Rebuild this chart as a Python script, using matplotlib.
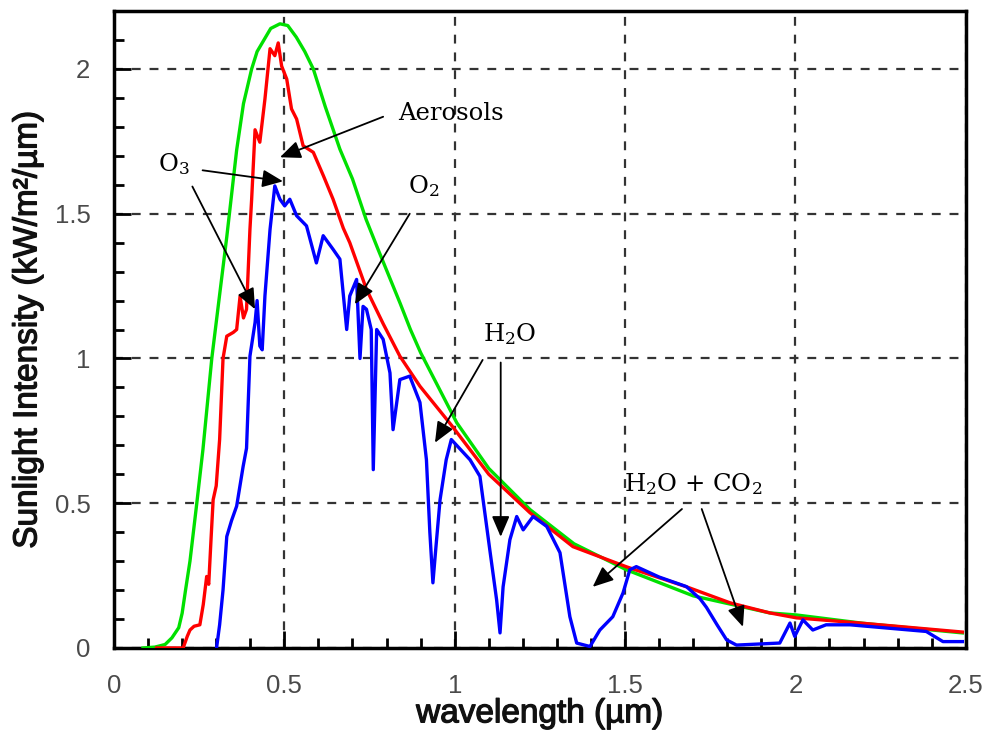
import matplotlib
matplotlib.use('Agg')
import matplotlib.pyplot as plt
import matplotlib.patheffects as pe
from matplotlib.ticker import MultipleLocator, FormatStrFormatter

plt.rcParams['mathtext.fontset'] = 'dejavuserif'

# values (wavelength in um, intensity in kW/m2/um)
green_wl = [0.085, 0.12, 0.15, 0.17, 0.19, 0.20, 0.21, 0.223, 0.243, 0.261, 0.287, 0.31,
            0.331, 0.36, 0.38, 0.404, 0.42, 0.44, 0.46, 0.487, 0.51, 0.535, 0.56, 0.585,
            0.62, 0.663, 0.70, 0.74, 0.775, 0.84, 0.87, 0.90, 1.006, 1.1, 1.221, 1.35,
            1.504, 1.7, 1.925, 2.003, 2.2, 2.49]
green_val = [0.0, 0.003, 0.012, 0.035, 0.07, 0.12, 0.2, 0.3, 0.5, 0.685, 1.0, 1.22,
             1.42, 1.72, 1.88, 2.0, 2.06, 2.1, 2.14, 2.156, 2.15, 2.11, 2.06, 2.0,
             1.87, 1.723, 1.62, 1.48, 1.377, 1.19, 1.10, 1.02, 0.778, 0.62, 0.478, 0.36,
             0.27, 0.18, 0.121, 0.114, 0.085, 0.052]

red_wl = [0.125, 0.203, 0.215, 0.223, 0.235, 0.252, 0.262, 0.272, 0.278, 0.285, 0.291,
          0.30, 0.31, 0.32, 0.331, 0.35, 0.36, 0.37, 0.38, 0.389, 0.399, 0.404, 0.414,
          0.428, 0.443, 0.458, 0.472, 0.482, 0.492, 0.507, 0.521, 0.536, 0.555, 0.585,
          0.615, 0.643, 0.673, 0.692, 0.741, 0.79, 0.839, 0.898, 0.99, 1.1, 1.221,
          1.347, 1.505, 1.681, 1.808, 1.925, 2.003, 2.2, 2.49]
red_val = [0.0, 0.0, 0.04, 0.062, 0.075, 0.08, 0.15, 0.247, 0.22, 0.38, 0.512,
           0.56, 0.72, 1.0, 1.077, 1.09, 1.10, 1.215, 1.14, 1.17, 1.446, 1.55, 1.79,
           1.747, 1.896, 2.07, 2.046, 2.09, 2.01, 1.965, 1.862, 1.827, 1.735, 1.712,
           1.63, 1.55, 1.45, 1.40, 1.239, 1.12, 1.008, 0.904, 0.77, 0.60, 0.467,
           0.35, 0.28, 0.211, 0.156, 0.121, 0.104, 0.085, 0.055]

blue_wl = [0.301, 0.31, 0.32, 0.331, 0.345, 0.36, 0.379, 0.389, 0.399, 0.414, 0.42, 0.428,
           0.435, 0.443, 0.458, 0.472, 0.487, 0.501, 0.516, 0.536, 0.565, 0.594, 0.614,
           0.643, 0.663, 0.683, 0.692, 0.712, 0.722, 0.731, 0.741, 0.755, 0.761, 0.771,
           0.79, 0.81, 0.819, 0.839, 0.868, 0.898, 0.917, 0.927, 0.936, 0.945, 0.957,
           0.975, 0.99, 1.045, 1.074, 1.103, 1.123, 1.133, 1.142, 1.162, 1.182, 1.201,
           1.23, 1.27, 1.309, 1.338, 1.358, 1.397, 1.426, 1.464, 1.494, 1.514, 1.533,
           1.6, 1.68, 1.72, 1.739, 1.77, 1.798, 1.827, 1.954, 1.984, 1.998, 2.022,
           2.051, 2.09, 2.16, 2.267, 2.384, 2.433, 2.49]
blue_val = [0.0, 0.08, 0.2, 0.385, 0.44, 0.49, 0.627, 0.69, 1.008, 1.124, 1.2, 1.043,
            1.03, 1.216, 1.446, 1.596, 1.55, 1.527, 1.55, 1.493, 1.458, 1.33, 1.424,
            1.377, 1.343, 1.10, 1.216, 1.273, 1.0, 1.18, 1.17, 1.1, 0.616, 1.10,
            1.066, 0.95, 0.754, 0.927, 0.939, 0.848, 0.65, 0.4, 0.225, 0.35, 0.512,
            0.65, 0.72, 0.65, 0.593, 0.339, 0.166, 0.052, 0.211, 0.374, 0.454, 0.408,
            0.454, 0.42, 0.329, 0.108, 0.017, 0.005, 0.062, 0.108, 0.19, 0.27, 0.281,
            0.245, 0.212, 0.17, 0.14, 0.08, 0.028, 0.01, 0.017, 0.086, 0.04, 0.097,
            0.062, 0.08, 0.08, 0.069, 0.057, 0.022, 0.022]

# labels: (text, text position, [arrow tips], [arrow starts])
notes = [
    ('Aerosols', (0.99, 1.845), [(0.487, 1.695)], [(0.79, 1.835)]),
    ('O$_3$', (0.175, 1.67), [(0.496, 1.612), (0.414, 1.17)], [(0.26, 1.65), (0.23, 1.594)]),
    ('O$_2$', (0.91, 1.595), [(0.707, 1.187)], [(0.868, 1.5)]),
    ('H$_2$O', (1.16, 1.085), [(0.942, 0.709), (1.135, 0.384)], [(1.082, 0.995), (1.135, 0.986)]),
    ('H$_2$O + CO$_2$', (1.70, 0.566), [(1.405, 0.211), (1.846, 0.073)], [(1.667, 0.48), (1.725, 0.48)]),
]

fig = plt.figure(figsize=(9.87, 7.38), dpi=100)
ax = fig.add_axes([0.1155, 0.122, 0.863, 0.863])

ax.plot(green_wl, green_val, color='#00e000', lw=2.4, zorder=3)
ax.plot(red_wl, red_val, color='#ff0000', lw=2.4, zorder=4)
ax.plot(blue_wl, blue_val, color='#0000ff', lw=2.4, zorder=5)

ax.set_xlim(0, 2.5)
ax.set_ylim(0, 2.2)
ax.xaxis.set_major_locator(MultipleLocator(0.5))
ax.xaxis.set_minor_locator(MultipleLocator(0.1))
ax.yaxis.set_major_locator(MultipleLocator(0.5))
ax.yaxis.set_minor_locator(MultipleLocator(0.1))
ax.xaxis.set_major_formatter(FormatStrFormatter('%g'))
ax.yaxis.set_major_formatter(FormatStrFormatter('%g'))
ax.tick_params(which='both', direction='in', width=2, colors='black',
               labelcolor='#4a4a4a', labelsize=18.5, top=False, right=False)
ax.tick_params(which='major', length=12)
ax.tick_params(which='minor', length=7)
ax.tick_params(axis='x', which='major', pad=19)
ax.tick_params(axis='y', which='major', pad=17)
ax.grid(True, which='major', ls=(0, (4, 4)), color='#333333', lw=1.6)
for s in ax.spines.values():
    s.set_linewidth(2.5)

for lab in ax.get_xticklabels() + ax.get_yticklabels():
    lab.set_family('Liberation Sans')

thick = [pe.withStroke(linewidth=0.9, foreground='#111111')]
ax.set_xlabel('wavelength (µm)', fontsize=24, family='Liberation Sans',
              color='#111111', labelpad=0, path_effects=thick)
ax.set_ylabel('Sunlight Intensity (kW/m²/µm)', fontsize=24,
              family='Liberation Sans', color='#111111', labelpad=8, path_effects=thick)

for text, pos, tips, starts in notes:
    ax.text(pos[0], pos[1], text, fontsize=17.5, family='DejaVu Serif',
            ha='center', va='center', zorder=7)
    for tip, start in zip(tips, starts):
        ax.annotate('', xy=tip, xytext=start,
                    arrowprops=dict(arrowstyle='-|>,head_length=0.7,head_width=0.3',
                                    mutation_scale=18, lw=1.3, color='black',
                                    shrinkA=0, shrinkB=0),
                    zorder=8)

fig.savefig('out.png', dpi=100)
